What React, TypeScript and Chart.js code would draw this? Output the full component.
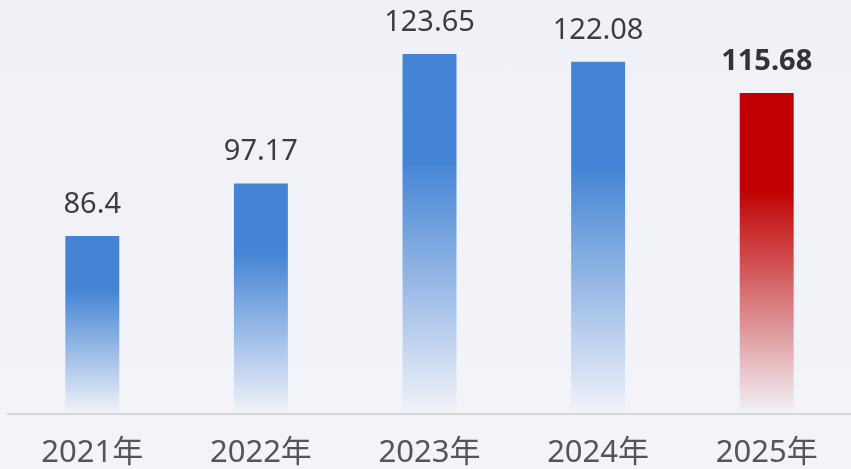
import React, { useEffect, useRef } from "react";
import { Chart, registerables } from "chart.js";

Chart.register(...registerables);

const categories = ["2021年", "2022年", "2023年", "2024年", "2025年"];
const values = [86.4, 97.17, 123.65, 122.08, 115.68];
const highlightIndex = 4;
const yMin = 50;
const yMax = 130;

const BLUE = [68, 132, 212];
const RED = [192, 0, 0];
const FONT = "'Noto Sans', 'Noto Sans CJK SC', sans-serif";

const valueLabelPlugin = {
  id: "valueLabels",
  afterDatasetsDraw(chart: any) {
    const ctx = chart.ctx;
    const meta = chart.getDatasetMeta(0);
    ctx.save();
    ctx.textAlign = "center";
    ctx.textBaseline = "alphabetic";
    meta.data.forEach((bar: any, i: number) => {
      const bold = i === highlightIndex;
      ctx.font = `${bold ? "bold " : ""}29px ${FONT}`;
      ctx.fillStyle = bold ? "#333333" : "#3d3d3d";
      ctx.fillText(String(values[i]), bar.x, bar.y - 23);
    });
    ctx.restore();
  },
};

export default function App() {
  const ref = useRef<HTMLCanvasElement>(null);
  useEffect(() => {
    if (!ref.current) return;
    const chart = new Chart(ref.current, {
      type: "bar",
      data: {
        labels: categories,
        datasets: [
          {
            data: values,
            barPercentage: 0.32,
            categoryPercentage: 1,
            backgroundColor: (c: any) => {
              const ch = c.chart;
              const rgb = c.dataIndex === highlightIndex ? RED : BLUE;
              const solid = `rgb(${rgb.join(",")})`;
              if (!ch.chartArea || !ch.scales.y || c.raw === undefined) return solid;
              const top = ch.scales.y.getPixelForValue(c.raw);
              const bottom = ch.scales.y.getPixelForValue(yMin);
              if (!isFinite(top) || !isFinite(bottom) || bottom - top < 1) return solid;
              const g = ch.ctx.createLinearGradient(0, top, 0, bottom);
              g.addColorStop(0, solid);
              g.addColorStop(0.3, solid);
              g.addColorStop(0.65, `rgba(${rgb.join(",")},0.5)`);
              g.addColorStop(1, `rgba(${rgb.join(",")},0.0)`);
              return g;
            },
          },
        ],
      },
      options: {
        animation: false,
        responsive: false,
        maintainAspectRatio: false,
        layout: { padding: { left: 8, right: 0, top: 23, bottom: 0 } },
        plugins: { legend: { display: false }, tooltip: { enabled: false } },
        scales: {
          x: {
            grid: { display: false, drawTicks: false },
            border: { display: true, color: "#d6d6d6", width: 2 },
            ticks: {
              color: "#555555",
              font: { size: 31, family: FONT },
              padding: 21,
            },
            afterFit: (s: any) => {
              s.height = 86;
            },
          },
          y: {
            display: false,
            min: yMin,
            max: yMax,
          },
        },
      },
      plugins: [valueLabelPlugin],
    });
    return () => chart.destroy();
  }, []);
  return (
    <div
      style={{
        position: "fixed",
        left: 0,
        top: 0,
        width: 851,
        height: 469,
        overflow: "hidden",
        background: "linear-gradient(180deg, #f0f1f7 0%, #f2f3f9 60%, #f3f4f9 100%)",
      }}
    >
      <canvas ref={ref} width={851} height={500} style={{ display: "block" }} />
    </div>
  );
}
